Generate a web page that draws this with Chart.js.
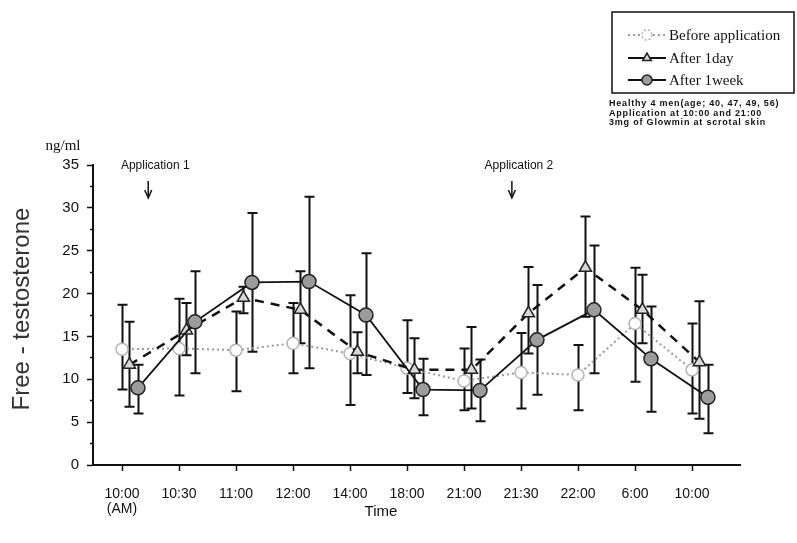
<!DOCTYPE html>
<html>
<head>
<meta charset="utf-8">
<script src="https://cdn.jsdelivr.net/npm/chart.js@4.4.1/dist/chart.umd.min.js"></script>
<style>
  html, body { margin: 0; padding: 0; background: #fff; }
  #wrap { width: 797px; height: 543px; }
</style>
</head>
<body>
<div id="wrap"><canvas id="chart" width="797" height="543"></canvas></div>
<script>
// time points along the x axis
const times = ["10:00", "10:30", "11:00", "12:00", "14:00", "18:00", "21:00", "21:30", "22:00", "6:00", "10:00"];

// Before application (mean, lower and upper end of error bar)
const beforeMean = [13.5, 13.6, 13.4, 14.2, 13.0, 11.3, 9.8, 10.8, 10.5, 16.5, 11.1];
const beforeLow  = [8.8, 8.1, 8.6, 10.7, 7.0, 8.4, 6.4, 6.6, 6.4, 9.7, 6.0];
const beforeHigh = [18.7, 19.4, 17.9, 18.9, 19.8, 16.9, 13.6, 15.4, 14.0, 23.0, 16.5];

// After 1day
const dayMean = [11.7, 15.7, 19.5, 18.1, 13.2, 11.1, 11.1, 17.7, 23.0, 18.1, 12.0];
const dayLow  = [6.8, 12.8, 17.7, 14.2, 10.7, 7.8, 6.6, 13.0, 17.3, 14.2, 5.4];
const dayHigh = [16.7, 18.9, 20.8, 22.6, 15.5, 14.8, 16.1, 23.1, 29.0, 22.2, 19.1];

// After 1week
const weekMean = [9.0, 16.7, 21.3, 21.4, 17.5, 8.8, 8.7, 14.6, 18.1, 12.4, 7.9];
const weekLow  = [6.0, 10.7, 13.2, 11.3, 10.5, 5.8, 5.1, 8.2, 10.7, 6.2, 3.7];
const weekHigh = [11.7, 22.6, 29.4, 31.3, 24.7, 12.4, 12.3, 21.0, 25.6, 18.5, 11.7];

// y axis ticks (labels every 5, small ticks in between)
const yTicks = [0, 2.5, 5, 7.5, 10, 12.5, 15, 17.5, 20, 22.5, 25, 27.5, 30, 32.5, 35];

// application markers (x in time-index units)
const appLabels = ["Application 1", "Application 2"];
const appAt = [0.46, 6.84];

const notes = [
    "Healthy 4 men(age; 40, 47, 49, 56)",
    "Application at 10:00 and 21:00",
    "3mg of Glowmin at scrotal skin"
];

function toPoints(mean, shift) {
    return mean.map((v, i) => ({ x: i + shift, y: v }));
}

const series = [
    { label: "Before application", mean: beforeMean, low: beforeLow, high: beforeHigh, shift: 0 },
    { label: "After 1day", mean: dayMean, low: dayLow, high: dayHigh, shift: 0.13 },
    { label: "After 1week", mean: weekMean, low: weekLow, high: weekHigh, shift: 0.28 }
];

// draws the vertical error bars under the points
const errorBars = {
    id: "errorBars",
    beforeDatasetsDraw(chart) {
        const { ctx, scales: { x, y } } = chart;
        ctx.save();
        ctx.strokeStyle = "#111";
        ctx.lineWidth = 2;
        series.forEach(s => {
            s.mean.forEach((v, i) => {
                let px = Math.round(x.getPixelForValue(i + s.shift)) + 0.5;
                let top = y.getPixelForValue(s.high[i]);
                let bot = y.getPixelForValue(s.low[i]);
                ctx.beginPath();
                ctx.moveTo(px, top);
                ctx.lineTo(px, bot);
                ctx.moveTo(px - 5, top);
                ctx.lineTo(px + 5, top);
                ctx.moveTo(px - 5, bot);
                ctx.lineTo(px + 5, bot);
                ctx.stroke();
            });
        });
        ctx.restore();
    }
};

// small ticks on the y axis are shorter than the labelled ones
const minorTicks = {
    id: "minorTicks",
    afterDraw(chart) {
        const { ctx, scales: { y } } = chart;
        ctx.save();
        ctx.fillStyle = "#fff";
        yTicks.filter(v => v % 5 !== 0).forEach(v => {
            let py = y.getPixelForValue(v);
            ctx.fillRect(y.right - 6, py - 2, 3, 4);
        });
        ctx.restore();
    }
};

// titles, application arrows, legend box and notes
const extras = {
    id: "extras",
    afterDraw(chart) {
        const { ctx, scales: { x, y } } = chart;
        ctx.save();
        ctx.fillStyle = "#111";

        ctx.font = "15px 'Liberation Serif'";
        ctx.textAlign = "center";
        ctx.textBaseline = "middle";
        ctx.fillText("ng/ml", 63, 146);

        ctx.font = "15px 'Liberation Sans'";
        ctx.fillText("Time", 381, 512);

        ctx.save();
        ctx.translate(22, 309);
        ctx.rotate(-Math.PI / 2);
        ctx.fillStyle = "#333";
        ctx.font = "24px 'Liberation Sans'";
        ctx.fillText("Free - testosterone", 0, 0);
        ctx.restore();

        // application arrows
        ctx.font = "12px 'Liberation Sans'";
        ctx.strokeStyle = "#111";
        ctx.lineWidth = 1.5;
        appLabels.forEach((txt, i) => {
            let px = x.getPixelForValue(appAt[i]);
            ctx.fillText(txt, px + 7, 166);
            ctx.beginPath();
            ctx.moveTo(px, 181);
            ctx.lineTo(px, 197);
            ctx.stroke();
            ctx.beginPath();
            ctx.moveTo(px - 3.5, 190);
            ctx.lineTo(px, 198);
            ctx.lineTo(px + 3.5, 190);
            ctx.stroke();
        });

        // legend box
        ctx.lineWidth = 1.5;
        ctx.strokeRect(612, 12, 182, 81);
        let rows = [35, 58, 80];
        ctx.textAlign = "left";
        ctx.font = "15px 'Liberation Serif'";
        chart.data.datasets.forEach((ds, i) => {
            let ly = rows[i];
            ctx.save();
            ctx.strokeStyle = ds.borderColor;
            ctx.lineWidth = i === 0 ? 2 : 1.8;
            ctx.setLineDash(i === 0 ? [2, 3] : []);
            ctx.beginPath();
            ctx.moveTo(628, ly);
            ctx.lineTo(666, ly);
            ctx.stroke();
            ctx.setLineDash(i === 0 ? [2, 2] : []);
            ctx.fillStyle = ds.pointBackgroundColor;
            ctx.strokeStyle = ds.pointBorderColor;
            ctx.lineWidth = ds.pointBorderWidth;
            Chart.helpers.drawPoint(ctx, { pointStyle: ds.pointStyle, radius: 5, borderWidth: ds.pointBorderWidth, rotation: 0 }, 647, ly);
            ctx.restore();
            ctx.fillText(ds.label, 669, ly + 1);
        });

        // notes under the legend
        ctx.font = "bold 9px 'Liberation Sans'";
        ctx.letterSpacing = "0.8px";
        notes.forEach((t, i) => ctx.fillText(t, 609, 104 + i * 9.5));

        ctx.restore();
    }
};

new Chart(document.getElementById("chart"), {
    type: "line",
    data: {
        datasets: [
            {
                label: series[0].label,
                data: toPoints(beforeMean, series[0].shift),
                borderColor: "#9a9a9a",
                borderWidth: 2,
                borderDash: [2, 3],
                pointStyle: "circle",
                pointRadius: 6,
                pointBackgroundColor: "#ffffff",
                pointBorderColor: "#b5b5b5",
                pointBorderWidth: 1.5,
                order: 3
            },
            {
                label: series[1].label,
                data: toPoints(dayMean, series[1].shift),
                borderColor: "#111",
                borderWidth: 2.5,
                borderDash: [9, 7],
                pointStyle: "triangle",
                pointRadius: 7,
                pointBackgroundColor: "#d8d8d8",
                pointBorderColor: "#222",
                pointBorderWidth: 1.5,
                order: 2
            },
            {
                label: series[2].label,
                data: toPoints(weekMean, series[2].shift),
                borderColor: "#111",
                borderWidth: 1.8,
                pointStyle: "circle",
                pointRadius: 7,
                pointBackgroundColor: "#9c9c9c",
                pointBorderColor: "#222",
                pointBorderWidth: 1.5,
                order: 1
            }
        ]
    },
    options: {
        responsive: false,
        animation: false,
        layout: { padding: { top: 165, right: 57, left: 0, bottom: 0 } },
        plugins: {
            legend: { display: false },
            tooltip: { enabled: false }
        },
        scales: {
            x: {
                type: "linear",
                min: -0.509,
                max: 10.842,
                afterFit: scale => { scale.height = 78; },
                afterBuildTicks: axis => { axis.ticks = times.map((t, i) => ({ value: i })); },
                grid: { drawOnChartArea: false, color: "#111", tickLength: 6, tickWidth: 1.5 },
                border: { color: "#111", width: 2 },
                ticks: {
                    color: "#111",
                    padding: 15,
                    maxRotation: 0,
                    autoSkip: false,
                    font: { family: "'Liberation Sans'", size: 14, lineHeight: 1.1 },
                    callback: (v) => v === 0 ? [times[0], "(AM)"] : times[v]
                }
            },
            y: {
                min: 0,
                max: 35,
                afterFit: scale => { scale.width = 93; },
                afterBuildTicks: axis => { axis.ticks = yTicks.map(v => ({ value: v })); },
                grid: { drawOnChartArea: false, color: "#111", tickLength: 6, tickWidth: 1.5 },
                border: { color: "#111", width: 2 },
                ticks: {
                    color: "#111",
                    padding: 8,
                    font: { family: "'Liberation Sans'", size: 15 },
                    callback: (v) => v % 5 === 0 ? v : ""
                }
            }
        }
    },
    plugins: [errorBars, minorTicks, extras]
});
</script>
</body>
</html>
